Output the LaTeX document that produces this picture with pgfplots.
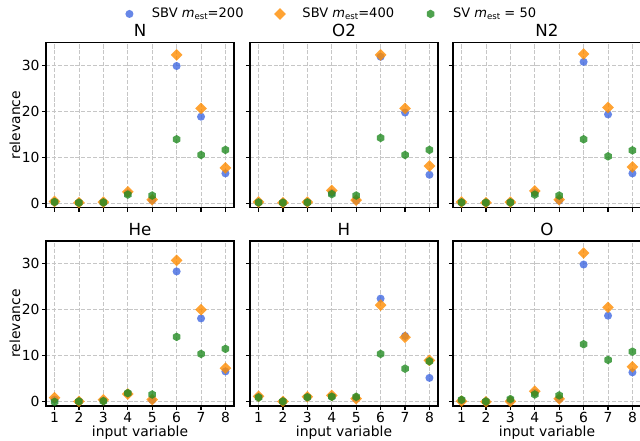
\documentclass[border=0pt]{standalone}
\usepackage{fontspec}
\setmainfont{DejaVu Sans}
\usepackage{pgfplots}
\usepackage{pgfplotstable}
\pgfplotsset{compat=1.18}

\definecolor{cb}{RGB}{65,105,225}
\definecolor{co}{RGB}{255,140,0}
\definecolor{cg}{RGB}{34,139,34}

\pgfdeclareplotmark{circ}{%
  \pgfpathcircle{\pgfpointorigin}{\pgfplotmarksize}%
  \pgfusepathqfill}
\pgfdeclareplotmark{dia}{%
  \pgfpathmoveto{\pgfqpoint{0pt}{\pgfplotmarksize}}%
  \pgfpathlineto{\pgfqpoint{\pgfplotmarksize}{0pt}}%
  \pgfpathlineto{\pgfqpoint{0pt}{-\pgfplotmarksize}}%
  \pgfpathlineto{\pgfqpoint{-\pgfplotmarksize}{0pt}}%
  \pgfpathclose\pgfusepathqfill}
\pgfdeclareplotmark{hex}{%
  \pgfpathmoveto{\pgfqpointpolar{90}{\pgfplotmarksize}}%
  \pgfpathlineto{\pgfqpointpolar{150}{\pgfplotmarksize}}%
  \pgfpathlineto{\pgfqpointpolar{210}{\pgfplotmarksize}}%
  \pgfpathlineto{\pgfqpointpolar{270}{\pgfplotmarksize}}%
  \pgfpathlineto{\pgfqpointpolar{330}{\pgfplotmarksize}}%
  \pgfpathlineto{\pgfqpointpolar{30}{\pgfplotmarksize}}%
  \pgfpathclose\pgfusepathqfill}

\pgfplotstableread{
x b o g
1 0.3 0.4 0.3
2 0.15 0.15 0.15
3 0.2 0.25 0.2
4 2.2 2.5 1.9
5 0.7 0.8 1.7
6 29.8 32.2 13.9
7 18.8 20.6 10.5
8 6.5 7.7 11.6
}\tN
\pgfplotstableread{
x b o g
1 0.2 0.3 0.2
2 0.15 0.15 0.15
3 0.2 0.25 0.2
4 2.3 2.8 2.0
5 0.6 0.7 1.7
6 31.8 32.2 14.2
7 19.7 20.6 10.5
8 6.2 8.1 11.6
}\tOtwo
\pgfplotstableread{
x b o g
1 0.2 0.3 0.2
2 0.15 0.15 0.15
3 0.2 0.25 0.2
4 2.3 2.7 1.9
5 0.6 0.8 1.7
6 30.7 32.4 13.9
7 19.3 20.8 10.2
8 6.5 7.9 11.5
}\tNtwo
\pgfplotstableread{
x b o g
1 0.5 0.9 0.0
2 0.1 0.1 0.1
3 0.3 0.45 0.15
4 1.8 1.7 1.9
5 0.4 0.5 1.6
6 28.3 30.7 14.1
7 18.1 20.0 10.4
8 6.6 7.3 11.5
}\tHe
\pgfplotstableread{
x b o g
1 1.1 1.2 0.95
2 0.1 0.1 0.1
3 1.0 1.1 1.0
4 1.2 1.4 1.1
5 0.8 0.7 1.1
6 22.4 21.0 10.4
7 14.3 14.0 7.2
8 5.2 9.0 8.8
}\tH
\pgfplotstableread{
x b o g
1 0.3 0.15 0.45
2 0.05 0.0 0.1
3 0.3 0.1 0.6
4 2.0 2.3 1.6
5 0.6 0.65 1.4
6 29.8 32.3 12.5
7 18.7 20.5 9.1
8 6.4 7.6 10.9
}\tO

\newcommand{\mest}{\textit{m}\raisebox{-0.3ex}{\fontsize{6.2}{7}\selectfont est}}

\pgfplotsset{
  every axis title shift=0pt,
  panel/.style={
    scale only axis, width=135.36pt, height=118.8pt,
    anchor=south west,
    xmin=0.65, xmax=8.35, ymin=-0.9, ymax=34.9,
    xtick={1,...,8}, ytick={0,10,20,30},
    xtick pos=left, ytick pos=left,
    tick align=outside, major tick length=3pt,
    tick style={black, line width=0.8pt},
    axis line style={line width=0.8pt},
    grid=major,
    major grid style={gray!45, line width=0.6pt, dash pattern=on 2.96pt off 1.28pt},
    /pgf/number format/assume math mode=true,
    tick label style={font=\fontsize{10}{12}\selectfont},
    xticklabel style={inner sep=1.5pt},
    yticklabel style={inner sep=1.5pt},
    label style={font=\fontsize{10}{12}\selectfont},
    title style={font=\fontsize{12}{14}\selectfont, at={(0.5,1)}, anchor=base, yshift=4.0pt},
    only marks,
    clip=false,
  },
  noxl/.style={xticklabels={}},
  noyl/.style={yticklabels={}},
  xl/.style={xlabel={input variable}, xlabel style={at={(axis description cs:0.5,-0.16)}, anchor=center}},
  yl/.style={ylabel={relevance}, ylabel style={at={(axis description cs:-0.165,0.5)}, anchor=center}},
  sb/.style={mark=circ, mark size=2.9pt, mark options={fill=cb, fill opacity=0.8}},
  so/.style={mark=dia, mark size=4.2pt, mark options={fill=co, fill opacity=0.8}},
  sg/.style={mark=hex, mark size=3.1pt, mark options={fill=cg, fill opacity=0.8}},
}

\newcommand{\series}[1]{%
  \addplot[sb] table[x=x,y=b] {#1};
  \addplot[so] table[x=x,y=o] {#1};
  \addplot[sg] table[x=x,y=g] {#1};
}

\begin{document}
\begin{tikzpicture}
\useasboundingbox (0,0) rectangle (460.8pt,316.8pt);
% top row
\begin{axis}[panel, noxl, yl, title={N}, at={(33.12pt,167.4pt)},
  legend columns=3,
  legend style={draw=none, fill=none, at={(axis description cs:1.51,1.173)}, anchor=center,
    font=\fontsize{9.4}{11}\selectfont, /tikz/every even column/.append style={column sep=18pt}},
  legend image code/.code={\path (0pt,0pt) (20pt,0pt); \draw[#1] plot coordinates {(6pt,0pt)};},
]
\series{\tN}
\legend{SBV \mest=200, SBV \mest=400, SV \mest\ = 50}
\end{axis}
\begin{axis}[panel, noxl, noyl, title={O2}, at={(180pt,167.4pt)}]
\series{\tOtwo}
\end{axis}
\begin{axis}[panel, noxl, noyl, title={N2}, at={(326.16pt,167.4pt)}]
\series{\tNtwo}
\end{axis}
% bottom row
\begin{axis}[panel, xl, yl, title={He}, at={(33.12pt,24.48pt)}]
\series{\tHe}
\end{axis}
\begin{axis}[panel, xl, noyl, title={H}, at={(180pt,24.48pt)}]
\series{\tH}
\end{axis}
\begin{axis}[panel, xl, noyl, title={O}, at={(326.16pt,24.48pt)}]
\series{\tO}
\end{axis}
\end{tikzpicture}
\end{document}
